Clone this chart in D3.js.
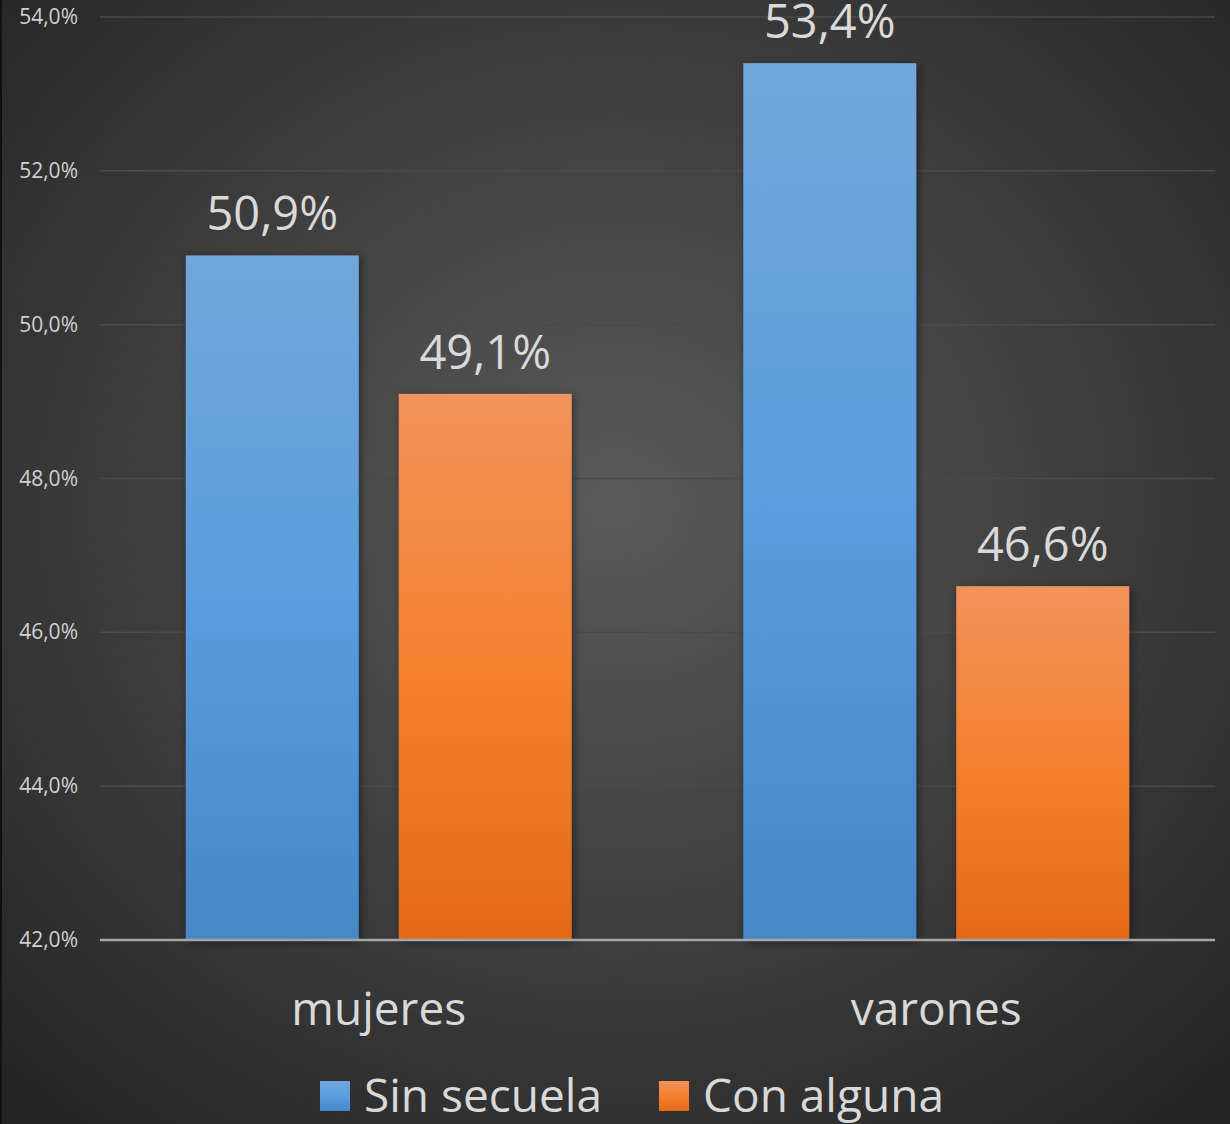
<!DOCTYPE html>
<html>
<head>
<meta charset="utf-8">
<script src="https://cdn.jsdelivr.net/npm/d3@7"></script>
<style>
  html, body { margin: 0; padding: 0; background: #2b2b2b; }
  svg { display: block; }
</style>
</head>
<body>
<svg id="chart" width="1230" height="1124"></svg>
<script>
const categories = ["mujeres", "varones"];
const seriesNames = ["Sin secuela", "Con alguna"];
const sinSecuela = [50.9, 53.4];
const conAlguna = [49.1, 46.6];
const yTicks = [42, 44, 46, 48, 50, 52, 54];

const W = 1230, H = 1124;
const svg = d3.select("#chart");
const defs = svg.append("defs");
const FONT = "'Open Sans', 'Noto Sans', sans-serif";

// Background radial gradient
const bg = defs.append("radialGradient").attr("id", "bg")
  .attr("cx", "50%").attr("cy", "45%").attr("r", "70%");
bg.append("stop").attr("offset", "0%").attr("stop-color", "#5a5a5a");
bg.append("stop").attr("offset", "100%").attr("stop-color", "#262626");
svg.append("rect").attr("width", W).attr("height", H).attr("fill", "url(#bg)");
svg.append("rect").attr("x", 0).attr("y", 0).attr("width", 2).attr("height", H).attr("fill", "#111");

// Bar gradients
const gradDefs = [
  { id: "gBlue", stops: ["#72a7da", "#5a9de0", "#4587c7"] },
  { id: "gOrange", stops: ["#f2925c", "#f5812f", "#e36a18"] }
];
gradDefs.forEach(g => {
  const lg = defs.append("linearGradient").attr("id", g.id)
    .attr("x1", 0).attr("y1", 0).attr("x2", 0).attr("y2", 1);
  lg.append("stop").attr("offset", "0%").attr("stop-color", g.stops[0]);
  lg.append("stop").attr("offset", "50%").attr("stop-color", g.stops[1]);
  lg.append("stop").attr("offset", "100%").attr("stop-color", g.stops[2]);
});
const shadow = defs.append("filter").attr("id", "shadow")
  .attr("x", "-10%").attr("y", "-10%").attr("width", "130%").attr("height", "130%");
shadow.append("feDropShadow").attr("dx", 2).attr("dy", 2).attr("stdDeviation", 4)
  .attr("flood-color", "#000").attr("flood-opacity", 0.45);

const plot = { left: 100, right: 1215, top: 17, bottom: 940 };

const y = d3.scaleLinear().domain([42, 54]).range([plot.bottom, plot.top]);
const x0 = d3.scaleBand().domain(categories).range([plot.left, plot.right]).paddingInner(0).paddingOuter(0);
const x1 = d3.scaleBand().domain(seriesNames).range([0, x0.bandwidth()]).paddingInner(0.188).paddingOuter(0.403);

// Grid lines
svg.append("g").selectAll("line").data(yTicks.slice(1)).join("line")
  .attr("x1", plot.left).attr("x2", plot.right)
  .attr("y1", d => y(d)).attr("y2", d => y(d))
  .attr("stroke", "#4a4a4a").attr("stroke-width", 1.5);

// Y tick labels
svg.append("g").selectAll("text").data(yTicks).join("text")
  .attr("x", 78).attr("y", d => y(d) + 7)
  .attr("text-anchor", "end")
  .attr("font-family", FONT).attr("font-size", 21)
  .attr("fill", "#d0d0d0")
  .text(d => d.toFixed(1).replace(".", ",") + "%");

// Bars
const data = categories.map((c, i) => ({
  cat: c,
  vals: [
    { s: seriesNames[0], v: sinSecuela[i], fill: "url(#gBlue)" },
    { s: seriesNames[1], v: conAlguna[i], fill: "url(#gOrange)" }
  ]
}));

const groups = svg.append("g").selectAll("g").data(data).join("g")
  .attr("transform", d => `translate(${x0(d.cat)},0)`);

groups.selectAll("rect").data(d => d.vals).join("rect")
  .attr("x", d => x1(d.s)).attr("width", x1.bandwidth())
  .attr("y", d => y(d.v)).attr("height", d => y(42) - y(d.v))
  .attr("fill", d => d.fill)
  .attr("filter", "url(#shadow)");

groups.selectAll("text").data(d => d.vals).join("text")
  .attr("x", d => x1(d.s) + x1.bandwidth() / 2)
  .attr("y", d => y(d.v) - 25)
  .attr("text-anchor", "middle")
  .attr("font-family", FONT).attr("font-size", 47)
  .attr("fill", "#d9d9d9")
  .text(d => d.v.toFixed(1).replace(".", ",") + "%");

// Baseline axis
svg.append("line")
  .attr("x1", plot.left).attr("x2", plot.right)
  .attr("y1", y(42)).attr("y2", y(42))
  .attr("stroke", "#a6a6a6").attr("stroke-width", 2.5);

// Category labels
svg.append("g").selectAll("text").data(categories).join("text")
  .attr("x", d => x0(d) + x0.bandwidth() / 2)
  .attr("y", 1025)
  .attr("text-anchor", "middle")
  .attr("font-family", FONT).attr("font-size", 46)
  .attr("fill", "#d9d9d9")
  .text(d => d);

// Legend
const legend = [
  { name: seriesNames[0], fill: "url(#gBlue)", x: 320 },
  { name: seriesNames[1], fill: "url(#gOrange)", x: 659 }
];
const lg = svg.append("g").selectAll("g").data(legend).join("g")
  .attr("transform", d => `translate(${d.x},0)`);
lg.append("rect").attr("x", 0).attr("y", 1081).attr("width", 30).attr("height", 30)
  .attr("fill", d => d.fill);
lg.append("text").attr("x", 44).attr("y", 1112)
  .attr("font-family", FONT).attr("font-size", 46)
  .attr("fill", "#d9d9d9")
  .text(d => d.name);
</script>
</body>
</html>
